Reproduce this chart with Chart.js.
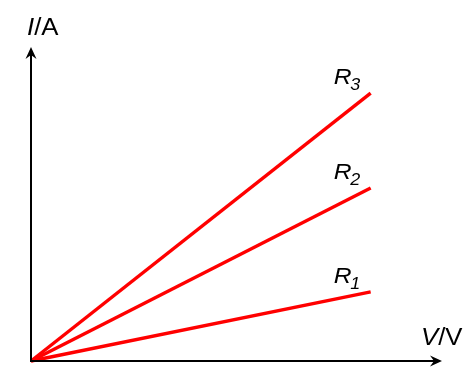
<!DOCTYPE html>
<html>
<head>
<meta charset="utf-8">
<script src="https://cdn.jsdelivr.net/npm/chart.js@4/dist/chart.umd.min.js"></script>
<style>
  html, body { margin: 0; padding: 0; background: #fff; }
  #wrap { width: 476px; height: 382px; position: relative; }
</style>
</head>
<body>
<div id="wrap"><canvas id="c" width="476" height="382"></canvas></div>
<script>
// Data
const seriesNames = ['R1', 'R2', 'R3'];
const subscripts = ['1', '2', '3'];
const voltage = [0, 10];
const currentR1 = [0, 2.64];
const currentR2 = [0, 6.61];
const currentR3 = [0, 10.24];
const xAxisLabel = ['V', '/V'];
const yAxisLabel = ['I', '/A'];
const xMax = 12.1;
const yMax = 12;

function pts(ys) { return voltage.map((v, i) => ({ x: v, y: ys[i] })); }
const allCurrents = [currentR1, currentR2, currentR3];

const FONT = "'Liberation Sans', Arial, sans-serif";
const STRETCH = 1.12;

function drawStretched(ctx, parts, x, y) {
  ctx.save();
  ctx.translate(x, y);
  ctx.scale(STRETCH, 1);
  let cx = 0;
  for (const p of parts) {
    ctx.font = (p.italic ? 'italic ' : '') + p.size + 'px ' + FONT;
    ctx.fillText(p.text, cx + (p.dx || 0), p.dy || 0);
    cx += ctx.measureText(p.text).width + (p.dx || 0);
  }
  ctx.restore();
}

const axesPlugin = {
  id: 'axesArrows',
  afterDatasetsDraw(chart) {
    const ctx = chart.ctx;
    const xs = chart.scales.x, ys = chart.scales.y;
    const ox = xs.getPixelForValue(0), oy = ys.getPixelForValue(0);
    const tx = xs.getPixelForValue(xMax), ty = ys.getPixelForValue(yMax);
    ctx.save();
    ctx.strokeStyle = '#000';
    ctx.fillStyle = '#000';
    ctx.lineWidth = 2;
    ctx.beginPath();
    ctx.moveTo(ox - 1, oy);
    ctx.lineTo(tx - 6, oy);
    ctx.moveTo(ox, oy + 1);
    ctx.lineTo(ox, ty + 6);
    ctx.stroke();
    // x arrow
    ctx.beginPath();
    ctx.moveTo(tx, oy);
    ctx.lineTo(tx - 12, oy - 5.5);
    ctx.lineTo(tx - 8, oy);
    ctx.lineTo(tx - 12, oy + 5.5);
    ctx.closePath();
    ctx.fill();
    // y arrow
    ctx.beginPath();
    ctx.moveTo(ox, ty);
    ctx.lineTo(ox - 5.5, ty + 12);
    ctx.lineTo(ox, ty + 8);
    ctx.lineTo(ox + 5.5, ty + 12);
    ctx.closePath();
    ctx.fill();

    ctx.textBaseline = 'alphabetic';
    ctx.textAlign = 'left';
    drawStretched(ctx, [
      { text: yAxisLabel[0], italic: true, size: 23 },
      { text: yAxisLabel[1], italic: false, size: 23 }
    ], ox - 4, ty - 12);
    drawStretched(ctx, [
      { text: xAxisLabel[0], italic: true, size: 23 },
      { text: xAxisLabel[1], italic: false, size: 23 }
    ], tx - 21, oy - 16);

    allCurrents.forEach((ys_, i) => {
      const ex = xs.getPixelForValue(voltage[voltage.length - 1]);
      const ey = ys.getPixelForValue(ys_[ys_.length - 1]);
      drawStretched(ctx, [
        { text: seriesNames[i].charAt(0), italic: true, size: 22 },
        { text: subscripts[i], italic: true, size: 16, dy: 6, dx: -1 }
      ], ex - 37, ey - 9);
    });
    ctx.restore();
  }
};

new Chart(document.getElementById('c'), {
  type: 'scatter',
  data: {
    datasets: allCurrents.map((ys, i) => ({
      label: seriesNames[i],
      data: pts(ys),
      showLine: true,
      borderColor: '#ff0000',
      backgroundColor: '#ff0000',
      borderWidth: 3.4,
      pointRadius: 0,
      borderCapStyle: 'butt',
      clip: false
    }))
  },
  options: {
    responsive: false,
    animation: false,
    devicePixelRatio: 1,
    layout: { padding: { left: 31, right: 34, top: 47, bottom: 21 } },
    plugins: { legend: { display: false }, tooltip: { enabled: false } },
    scales: {
      x: { type: 'linear', min: 0, max: xMax, display: false },
      y: { type: 'linear', min: 0, max: yMax, display: false }
    }
  },
  plugins: [axesPlugin]
});
</script>
</body>
</html>
